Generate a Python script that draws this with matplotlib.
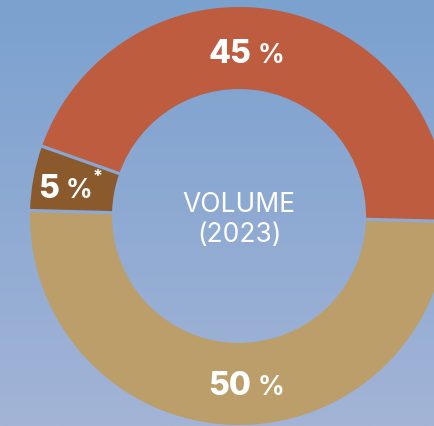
import numpy as np
import matplotlib
matplotlib.use("Agg")
import matplotlib.pyplot as plt
from matplotlib.colors import LinearSegmentedColormap
from matplotlib.patches import Polygon

# ---- data ----
categories = ["Segment A", "Segment B", "Segment C"]
shares = [45, 50, 5]
value_labels = ["45", "50", "5"]
colors = ["#bd5c3f", "#bb9e69", "#8a5a2c"]
center_title = "VOLUME\n(2023)"

W, H = 435, 426
fig = plt.figure(figsize=(W / 100, H / 100), dpi=100)
ax = fig.add_axes([0, 0, 1, 1])

bg = LinearSegmentedColormap.from_list("bg", ["#7ba1cf", "#8eaad3", "#a3b4d6"])
grad = np.linspace(0, 1, 256).reshape(-1, 1)
ax.imshow(grad, cmap=bg, extent=(0, W, 0, H), origin="upper", aspect="auto", zorder=0)

cx, cy = 239, H - 216
R_out, R_in = 209, 127
gap_px = 3.2
wedges, _ = ax.pie(shares, colors=colors, startangle=160.5, counterclock=False,
                   center=(cx, cy), radius=R_out, frame=True,
                   wedgeprops=dict(width=R_out - R_in, edgecolor="none", linewidth=0))
for w in wedges:
    w.set_zorder(1)

# gaps between segments: background re-drawn inside thin bands
for w in wedges:
    a = np.deg2rad(w.theta1)
    d = np.array([np.cos(a), np.sin(a)])
    n = np.array([-d[1], d[0]]) * gap_px / 2
    p0 = np.array([cx, cy]) + d * (R_in - 3)
    p1 = np.array([cx, cy]) + d * (R_out + 3)
    poly = Polygon([p0 - n, p1 - n, p1 + n, p0 + n], closed=True,
                   facecolor="none", edgecolor="none", transform=ax.transData)
    ax.add_patch(poly)
    im = ax.imshow(grad, cmap=bg, extent=(0, W, 0, H), origin="upper",
                   aspect="auto", zorder=2)
    im.set_clip_path(poly)

ax.set_xlim(0, W)
ax.set_ylim(0, H)
ax.set_aspect("equal")
ax.axis("off")

font = "Inter"
big = dict(color="white", fontsize=23, fontweight=800, family=font, va="baseline", zorder=5)
small = dict(color="white", fontsize=19, fontweight=700, family=font, va="baseline", zorder=5)

label_pos = [(251, 63), (251, 395), (59, 198)]
for (x, y), txt in zip(label_pos, value_labels):
    ax.text(x, H - y, txt, ha="right", **big)
    ax.text(x + 7, H - y, "%", ha="left", **small)
ax.text(93, H - 182, "*", ha="left", color="white", fontsize=13,
        fontweight="bold", family=font, va="baseline", zorder=5)

ax.text(cx, H - 220, center_title, ha="center", va="center", color="white",
        fontsize=19, fontweight="normal", family=font, linespacing=1.2, zorder=5)

fig.savefig("out.png", dpi=100)
